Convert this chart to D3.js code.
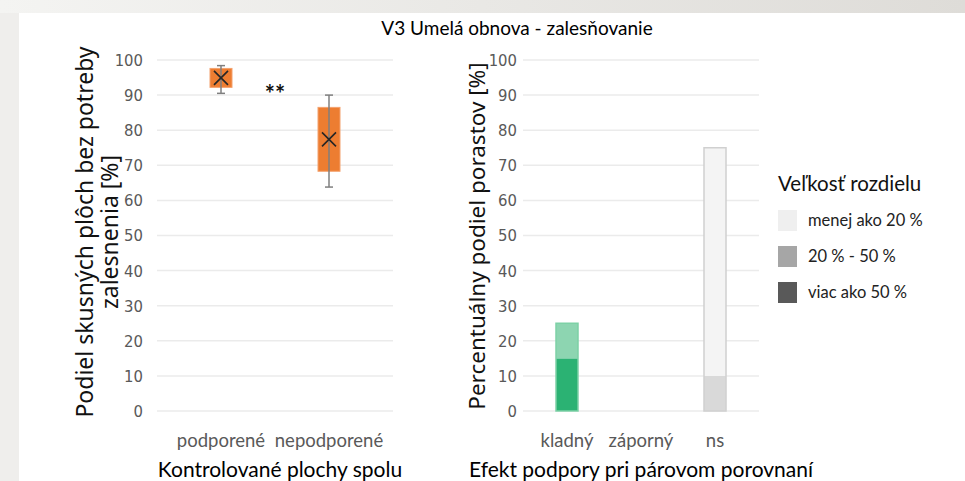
<!DOCTYPE html>
<html>
<head>
<meta charset="utf-8">
<script src="https://cdn.jsdelivr.net/npm/d3@7"></script>
<style>
	html, body { margin: 0; padding: 0; background: #efeeec; }
	svg { display: block; font-family: Lato, 'Open Sans', sans-serif; }
	.tick-label { font-family: 'Liberation Sans Narrow', 'DejaVu Sans Condensed', Lato, sans-serif; }
</style>
</head>
<body>
<svg id="chart" width="965" height="481"></svg>
<script>
'use strict';

// left panel - box plot
var boxCategories = ['podporené', 'nepodporené'];
var boxMin = [90.5, 63.8];
var boxQ1 = [92.2, 68.3];
var boxQ3 = [97.6, 86.5];
var boxMax = [98.4, 90.0];
var boxMean = [94.9, 77.4];
var signifLabel = '**';
var signifValue = 87.7;

// right panel - stacked bars
var effectCategories = ['kladný', 'záporný', 'ns'];
var sizeClasses = ['viac ako 50 %', '20 % - 50 %', 'menej ako 20 %'];
var kladnyValues = [15, 10, 0];
var zapornyValues = [0, 0, 0];
var nsValues = [0, 10, 65];

var yTickValues = [0, 10, 20, 30, 40, 50, 60, 70, 80, 90, 100];

var legendTitle = 'Veľkosť rozdielu';
var legendLabels = ['menej ako 20 %', '20 % - 50 %', 'viac ako 50 %'];
var legendColors = ['#efefef', '#a6a6a6', '#595959'];

var svg = d3.select('#chart');

// page background
var defs = svg.append('defs');
var grad = defs.append('linearGradient').attr('id', 'topband');
grad.append('stop').attr('offset', '0%').attr('stop-color', '#f4f4f2');
grad.append('stop').attr('offset', '100%').attr('stop-color', '#dedcd8');
svg.append('rect').attr('x', 0).attr('y', 0).attr('width', 965).attr('height', 13)
	.attr('fill', 'url(#topband)');
svg.append('rect').attr('x', 19).attr('y', 13).attr('width', 946).attr('height', 468)
	.attr('fill', '#fff');

svg.append('text')
	.attr('x', 517).attr('y', 35)
	.attr('text-anchor', 'middle')
	.style('font-size', '19px')
	.style('fill', '#000')
	.text('V3 Umelá obnova - zalesňovanie');

var yScale = d3.scaleLinear().domain([0, 100]).range([411, 60]);

var drawYAxis = function(x0, x1, labelX) {
	var g = svg.append('g');
	g.selectAll('.grid')
		.data(yTickValues)
		.enter()
		.append('line')
		.attr('x1', x0).attr('x2', x1)
		.attr('y1', function(d) { return yScale(d); })
		.attr('y2', function(d) { return yScale(d); })
		.attr('stroke', '#ebebeb')
		.attr('stroke-width', 1.5);
	g.selectAll('.tick')
		.data(yTickValues)
		.enter()
		.append('text')
		.attr('class', 'tick-label')
		.attr('x', labelX)
		.attr('y', function(d) { return yScale(d); })
		.attr('dy', '0.36em')
		.attr('text-anchor', 'end')
		.style('font-size', '16.5px')
		.style('fill', '#595959')
		.text(function(d) { return d; });
};

// ---- left panel ----
drawYAxis(157, 393, 143);

var xBox = d3.scalePoint().domain(boxCategories).range([221, 329]);
var boxW = 22;

var boxes = svg.append('g');
boxCategories.forEach(function(c, i) {
	var cx = xBox(c);
	boxes.append('rect')
		.attr('x', cx - boxW / 2)
		.attr('y', yScale(boxQ3[i]))
		.attr('width', boxW)
		.attr('height', yScale(boxQ1[i]) - yScale(boxQ3[i]))
		.attr('fill', '#ed7d31')
		.attr('stroke', '#f4a26e')
		.attr('stroke-width', 1);
	boxes.append('line')
		.attr('x1', cx).attr('x2', cx)
		.attr('y1', yScale(boxMax[i])).attr('y2', yScale(boxMin[i]))
		.attr('stroke', '#7f7f7f').attr('stroke-width', 1.5);
	[boxMax[i], boxMin[i]].forEach(function(v) {
		boxes.append('line')
			.attr('x1', cx - 4).attr('x2', cx + 4)
			.attr('y1', yScale(v)).attr('y2', yScale(v))
			.attr('stroke', '#7f7f7f').attr('stroke-width', 1.5);
	});
	var my = yScale(boxMean[i]);
	boxes.append('path')
		.attr('d', 'M' + (cx - 7) + ',' + (my - 7) + 'L' + (cx + 7) + ',' + (my + 7) +
			'M' + (cx - 7) + ',' + (my + 7) + 'L' + (cx + 7) + ',' + (my - 7))
		.attr('stroke', '#262626').attr('stroke-width', 1.6).attr('fill', 'none');
});

svg.append('text')
	.attr('x', (xBox(boxCategories[0]) + xBox(boxCategories[1])) / 2)
	.attr('y', yScale(signifValue))
	.attr('text-anchor', 'middle')
	.style('font-size', '24px')
	.style('font-weight', 'bold')
	.style('fill', '#111')
	.text(signifLabel);

svg.append('g').selectAll('text')
	.data(boxCategories)
	.enter()
	.append('text')
	.attr('x', function(d) { return xBox(d); })
	.attr('y', 447)
	.attr('text-anchor', 'middle')
	.style('font-size', '18.5px')
	.style('fill', '#595959')
	.text(function(d) { return d; });

svg.append('text')
	.attr('x', 280).attr('y', 477)
	.attr('text-anchor', 'middle')
	.style('font-size', '21px')
	.text('Kontrolované plochy spolu');

var leftTitle = svg.append('text')
	.attr('transform', 'translate(93,232) rotate(-90)')
	.attr('text-anchor', 'middle')
	.style('font-family', "'Noto Sans', sans-serif")
	.style('font-size', '23px')
	.style('fill', '#111');
leftTitle.append('tspan').attr('x', 0).attr('y', 0).text('Podiel skusných plôch bez potreby');
leftTitle.append('tspan').attr('x', 0).attr('y', 25).text('zalesnenia [%]');

// ---- right panel ----
drawYAxis(523, 759, 517);

var xBar = d3.scaleBand().domain(effectCategories).range([530, 752]).paddingInner(0).paddingOuter(0);
var barW = 22;

var barTable = [kladnyValues, zapornyValues, nsValues].map(function(vals, i) {
	var row = { cat: effectCategories[i] };
	sizeClasses.forEach(function(s, j) { row[s] = vals[j]; });
	return row;
});
var stacked = d3.stack().keys(sizeClasses)(barTable);

var barFills = {
	'kladný': ['#2bb273', '#8dd5b1', '#d8f1e4'],
	'záporný': ['#e0544d', '#f0a7a3', '#fadcda'],
	'ns': ['#8c8c8c', '#d9d9d9', '#f4f4f4']
};
var barStrokes = { 'kladný': '#7dd1a6', 'záporný': '#f0a7a3', 'ns': '#d0d0d0' };

var bars = svg.append('g');
stacked.forEach(function(layer, j) {
	bars.selectAll('.l' + j)
		.data(layer.filter(function(d) { return d[1] > d[0]; }))
		.enter()
		.append('rect')
		.attr('x', function(d) { return xBar(d.data.cat) + xBar.bandwidth() / 2 - barW / 2; })
		.attr('y', function(d) { return yScale(d[1]); })
		.attr('width', barW)
		.attr('height', function(d) { return yScale(d[0]) - yScale(d[1]); })
		.attr('fill', function(d) { return barFills[d.data.cat][j]; });
});
var barTotal = function(r) { return d3.sum(sizeClasses, function(s) { return r[s]; }); };
// outline round each whole bar
bars.selectAll('.outline')
	.data(barTable.filter(function(r) { return barTotal(r) > 0; }))
	.enter()
	.append('rect')
	.attr('x', function(d) { return xBar(d.cat) + xBar.bandwidth() / 2 - barW / 2; })
	.attr('y', function(d) { return yScale(barTotal(d)); })
	.attr('width', barW)
	.attr('height', function(d) { return yScale(0) - yScale(barTotal(d)); })
	.attr('fill', 'none')
	.attr('stroke', function(d) { return barStrokes[d.cat]; })
	.attr('stroke-width', 1.5);

svg.append('g').selectAll('text')
	.data(effectCategories)
	.enter()
	.append('text')
	.attr('x', function(d) { return xBar(d) + xBar.bandwidth() / 2; })
	.attr('y', 447)
	.attr('text-anchor', 'middle')
	.style('font-size', '18.5px')
	.style('fill', '#595959')
	.text(function(d) { return d; });

svg.append('text')
	.attr('x', 641).attr('y', 477)
	.attr('text-anchor', 'middle')
	.style('font-size', '21px')
	.text('Efekt podpory pri párovom porovnaní');

svg.append('text')
	.attr('transform', 'translate(485,236) rotate(-90)')
	.attr('text-anchor', 'middle')
	.style('font-family', "'Noto Sans', sans-serif")
	.style('font-size', '22.5px')
	.style('fill', '#111')
	.text('Percentuálny podiel porastov [%]');

// legend
var legend = svg.append('g').attr('transform', 'translate(778,0)');
legend.append('text')
	.attr('x', 0).attr('y', 191)
	.style('font-size', '20.5px')
	.style('fill', '#111')
	.text(legendTitle);
var ly = d3.scalePoint().domain(legendLabels).range([220, 292]);
legend.selectAll('rect')
	.data(legendLabels)
	.enter()
	.append('rect')
	.attr('x', 0)
	.attr('y', function(d) { return ly(d) - 10; })
	.attr('width', 19).attr('height', 21)
	.attr('fill', function(d, i) { return legendColors[i]; });
legend.selectAll('.lbl')
	.data(legendLabels)
	.enter()
	.append('text')
	.attr('x', 30)
	.attr('y', function(d) { return ly(d); })
	.attr('dy', '0.35em')
	.style('font-size', '16.5px')
	.style('fill', '#222')
	.text(function(d) { return d; });
</script>
</body>
</html>
